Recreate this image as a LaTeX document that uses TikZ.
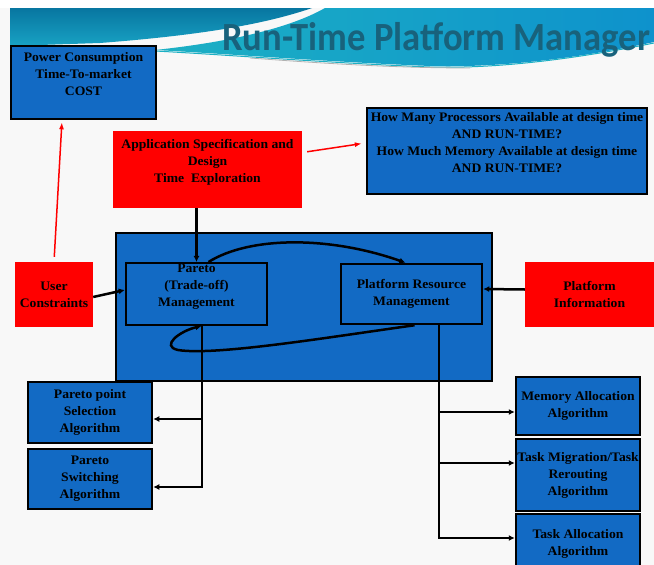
\documentclass[tikz,border=0pt]{standalone}
\usepackage{fontspec}
\setmainfont[FakeStretch=1.05]{Liberation Serif}
\newfontfamily\titlefont[FakeStretch=0.915]{Carlito}
\usepackage{tikz}
\usetikzlibrary{arrows.meta,positioning,shapes,calc}

\definecolor{boxblue}{RGB}{18,106,196}
\definecolor{titleteal}{RGB}{24,98,124}
\definecolor{bannerdark}{RGB}{8,118,160}
\definecolor{bannerlight}{RGB}{24,162,196}
\definecolor{bannercyan}{RGB}{28,176,196}
\definecolor{bannerblue}{RGB}{14,146,204}
\definecolor{pagebg}{RGB}{248,248,248}
\newcommand\boxfont{\fontsize{13}{17}\selectfont\bfseries}

\begin{document}
\begin{tikzpicture}[x=1pt,y=-1pt,
    bluebox/.style={draw=black, line width=2.5pt, fill=boxblue, align=center, font=\boxfont, inner sep=1pt},
    redbox/.style={fill=red, align=center, font=\boxfont, inner sep=1pt},
    conn/.style={line width=2.5pt, -{Latex[length=6pt,width=6pt]}},
    redconn/.style={red, line width=1.5pt, -{Latex[length=7pt,width=5pt]}}]
    \clip (0,0) rectangle (654,565);
    \fill[pagebg] (0,0) rectangle (654,565);
    \fill[white] (0,0) rectangle (654,8);

    % Banner
    \shade[top color=bannerdark, bottom color=bannerlight] (10,8) -- (312,8) .. controls (260,26) and (190,36) .. (100,43) -- (10,46) -- cycle;
    \shade[left color=bannercyan, right color=bannerblue] (325,8) -- (654,8) -- (654,42) .. controls (580,58) and (500,68) .. (430,66) .. controls (330,62) and (230,54) .. (155,50) .. controls (230,42) and (290,28) .. (325,8) -- cycle;
    \draw[bannercyan, line width=1pt] (155,51) .. controls (230,55) and (330,63) .. (430,67) .. controls (500,69) and (580,58) .. (654,43);
    \draw[gray!60, line width=0.8pt] (250,58) .. controls (330,64) and (400,68) .. (470,68);
    \node[font=\titlefont\bfseries\fontsize{40}{40}\selectfont, text=titleteal, anchor=base west, inner sep=0pt] (title) at (222,50) {Run-Time Platform Manager};

    % Boxes
    \node[bluebox, minimum width=145pt, minimum height=73pt] (power) at (83.5,82.5) {Power Consumption\\Time-To-market\\COST\\ \mbox{}};
    \node[redbox, minimum width=189pt, minimum height=77pt] (appspec) at (207.5,169.5) {Application Specification and\\Design\\Time~ Exploration\\ \mbox{}};
    \node[bluebox, minimum width=280pt, minimum height=86pt] (howmany) at (507,151) {How Many Processors Available at design time\\AND RUN-TIME?\\How Much Memory Available at design time\\AND RUN-TIME?\\ \mbox{}};
    \node[bluebox, minimum width=376pt, minimum height=148pt] (core) at (304,307) {};
    \node[redbox, minimum width=78pt, minimum height=65pt] (user) at (54,294.5) {User\\Constraints};
    \node[bluebox, minimum width=141pt, minimum height=60pt] (pareto) at (196.5,294) {Pareto\\(Trade-off)\\Management\\ \mbox{}};
    \node[bluebox, minimum width=141pt, minimum height=60pt] (platres) at (411.5,294) {Platform Resource\\Management};
    \node[redbox, minimum width=129pt, minimum height=65pt] (platinfo) at (589.5,294.5) {Platform\\Information};
    \node[bluebox, minimum width=124pt, minimum height=61pt] (ppsel) at (90,412.5) {Pareto point\\Selection\\Algorithm};
    \node[bluebox, minimum width=124pt, minimum height=60pt] (ppsw) at (90,479) {Pareto\\Switching\\Algorithm};
    \node[bluebox, minimum width=124pt, minimum height=58pt] (memalloc) at (578,406) {Memory Allocation\\Algorithm};
    \node[bluebox, minimum width=124pt, minimum height=72pt] (taskmig) at (578,475) {Task Migration/Task\\Rerouting\\Algorithm};
    \node[bluebox, minimum width=124pt, minimum height=60pt] (taskalloc) at (578,544) {Task Allocation\\Algorithm};

    % Red arrows
    \draw[redconn, shorten <=5pt, shorten >=2pt] (user.north) -- ([xshift=-21.5pt]power.south);
    \draw[redconn, shorten <=5pt, shorten >=4pt] ([yshift=17pt]appspec.east) -- ([yshift=8pt]howmany.west);

    % Inside the manager
    \draw[conn] (appspec.south -| pareto.north) -- (pareto.north);
    \draw[conn] ([xshift=12pt]pareto.north) .. controls (250,236) and (330,236) .. ([xshift=-6pt]platres.north);
    \draw[conn] ([xshift=3pt]platres.south) .. controls (330,337) and (215,356) .. (178,350) .. controls (160,346) and (180,331) .. ([xshift=5pt]pareto.south);
    \draw[conn] ([yshift=-2.5pt]user.east) -- ([yshift=4pt]pareto.west);
    \draw[conn] ([yshift=5pt]platinfo.west) -- ([yshift=5pt]platres.east);

    % Pareto algorithms
    \draw[conn] ([xshift=5.5pt]pareto.south) |- ([yshift=-8pt]ppsw.east);
    \draw[conn] ([xshift=5.5pt,yshift=-6.5pt]pareto.south |- ppsel.east) -- ([yshift=-6.5pt]ppsel.east);

    % Resource algorithms
    \draw[conn] ([xshift=27.5pt]platres.south) |- ([yshift=6pt]taskalloc.west);
    \draw[conn] ([xshift=27.5pt,yshift=-6pt]platres.south |- memalloc.west) -- ([yshift=-6pt]memalloc.west);
    \draw[conn] ([xshift=27.5pt,yshift=12pt]platres.south |- taskmig.west) -- ([yshift=12pt]taskmig.west);
\end{tikzpicture}
\end{document}
